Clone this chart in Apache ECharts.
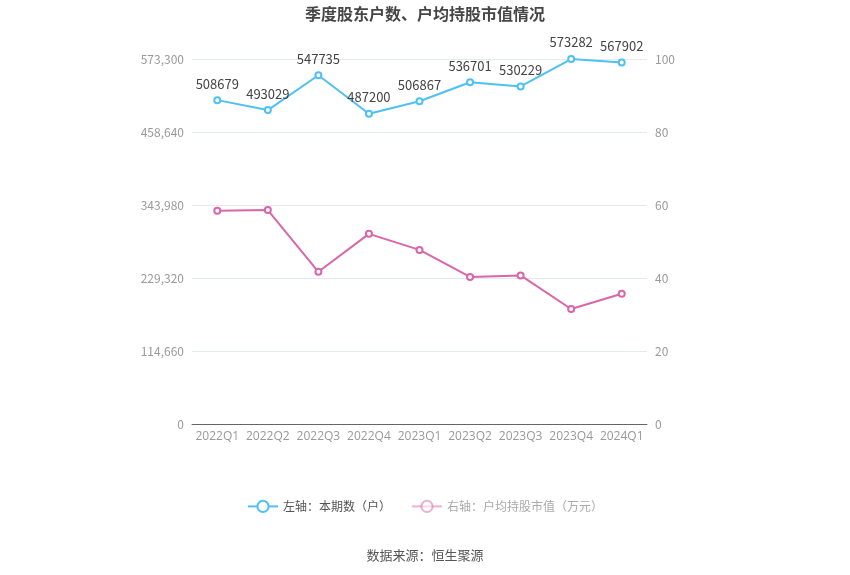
<!DOCTYPE html>
<html>
<head>
<meta charset="utf-8">
<script src="https://cdn.jsdelivr.net/npm/echarts@6/dist/echarts.min.js"></script>
<style>
    html, body { margin: 0; padding: 0; background: #fff; }
    #chart { width: 850px; height: 575px; }
</style>
</head>
<body>
<div id="chart"></div>
<script>
// datos del grafico
var quarters = ['2022Q1', '2022Q2', '2022Q3', '2022Q4', '2023Q1', '2023Q2', '2023Q3', '2023Q4', '2024Q1'];
var holders = [508679, 493029, 547735, 487200, 506867, 536701, 530229, 573282, 567902];
var avgValue = [58.4, 58.6, 41.7, 52.1, 47.7, 40.3, 40.7, 31.5, 35.7];
var leftTicks = [0, 114660, 229320, 343980, 458640, 573300];

var chart = echarts.init(document.getElementById('chart'));
chart.setOption({
    animation: false,
    textStyle: { fontFamily: '"Noto Sans CJK SC", "Noto Sans", sans-serif' },
    title: {
        text: '季度股东户数、户均持股市值情况',
        left: 'center',
        top: 1,
        textStyle: { fontSize: 16, fontWeight: 'bold', color: '#464646' }
    },
    graphic: [{
        type: 'text',
        left: 'center',
        top: 549,
        style: { text: '数据来源：恒生聚源', fontSize: 13, fill: '#555',
                 fontFamily: '"Noto Sans CJK SC", sans-serif' }
    }],
    legend: {
        bottom: 57,
        left: 'center',
        itemWidth: 30,
        itemHeight: 14,
        itemGap: 20,
        textStyle: { fontSize: 12, color: '#555' },
        data: [
            { name: '左轴：本期数（户）' },
            { name: '右轴：户均持股市值（万元）', textStyle: { color: '#aaa' },
              itemStyle: { opacity: 0.5 }, lineStyle: { opacity: 0.5 } }
        ]
    },
    grid: { left: 192, right: 203, top: 59, bottom: 151 },
    xAxis: {
        type: 'category',
        data: quarters,
        axisTick: { alignWithLabel: true, lineStyle: { color: '#666' } },
        axisLine: { lineStyle: { color: '#666' } },
        axisLabel: { color: '#999', fontSize: 12, margin: 7, interval: 0,
                     fontFamily: '"Open Sans", "Noto Sans", sans-serif' }
    },
    yAxis: [{
        type: 'value',
        min: 0,
        max: leftTicks[leftTicks.length - 1],
        interval: leftTicks[1],
        axisLine: { show: false },
        axisTick: { show: false },
        axisLabel: { color: '#999', fontSize: 12,
            formatter: function (v) { return v.toLocaleString('en-US'); } },
        splitLine: { lineStyle: { color: '#e3e8f3' } }
    }, {
        type: 'value',
        min: 0,
        max: 100,
        interval: 20,
        axisLine: { show: false },
        axisTick: { show: false },
        axisLabel: { color: '#999', fontSize: 12 },
        splitLine: { show: false }
    }],
    series: [{
        name: '左轴：本期数（户）',
        type: 'line',
        yAxisIndex: 0,
        data: holders,
        symbol: 'emptyCircle',
        symbolSize: 6,
        color: '#4fc0f5',
        lineStyle: { width: 2 },
        label: { show: true, position: 'top', color: '#444', fontSize: 13, distance: 6 }
    }, {
        name: '右轴：户均持股市值（万元）',
        type: 'line',
        yAxisIndex: 1,
        data: avgValue,
        symbol: 'emptyCircle',
        symbolSize: 6,
        color: '#d966a8',
        lineStyle: { width: 2 }
    }]
});
</script>
</body>
</html>
